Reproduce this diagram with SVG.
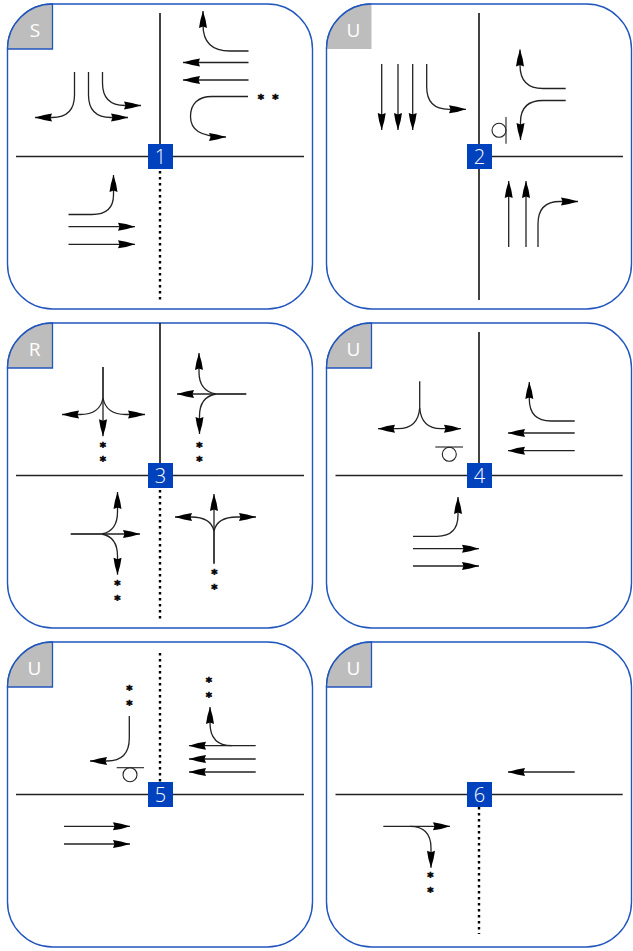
<svg xmlns="http://www.w3.org/2000/svg" width="633" height="951" viewBox="0 0 633 951">
<style>
.panel{fill:#fff;stroke:#2156bd;stroke-width:1.4}
.corner{fill:#bdbdbd;stroke:#2156bd;stroke-width:1.3}
.corner-flat{fill:#bdbdbd}
.letter,.num{font-family:"Open Sans","Liberation Sans",sans-serif;font-weight:400;fill:#fff;text-anchor:middle}
.letter{font-size:19px}
.num{font-size:20px;font-weight:300}
.box{fill:#0041bd}
.road{fill:none;stroke:#222;stroke-width:1.7}
.dot{fill:none;stroke:#000;stroke-width:2.4;stroke-dasharray:2.4 3.6}
.a{fill:none;stroke:#222;stroke-width:1.3;marker-end:url(#h)}
.sign{fill:none;stroke:#222;stroke-width:1.1}
.star{font-family:"DejaVu Sans",sans-serif;font-weight:700;font-size:12px;fill:#000;stroke:#000;stroke-width:.6;text-anchor:middle}
</style>
<defs>
<marker id="h" markerUnits="userSpaceOnUse" markerWidth="18" markerHeight="10" refX="17" refY="4.5" orient="auto" overflow="visible">
<path d="M0,0.5 L8,1.9 L17,4.5 L8,7.1 L0,8.5 L1.5,4.5 Z" fill="#000"/>
</marker>
</defs>
<g id="panels">
<g id="panel-1"><rect class="panel" x="7.5" y="4" width="305" height="305" rx="45"/><path class="corner" d="M7.5,49 A45,45 0 0 1 52.5,4 V49 Z"/><text class="letter" x="35" y="37">S</text></g>
<g id="panel-2"><rect class="panel" x="326.5" y="4" width="305" height="305" rx="45"/><path class="corner-flat" d="M326.5,49 A45,45 0 0 1 371.5,4 V49 Z"/><path d="M326.5,49 A45,45 0 0 1 371.5,4" fill="none" stroke="#2156bd" stroke-width="1.3"/><text class="letter" x="353.5" y="37">U</text></g>
<g id="panel-3"><rect class="panel" x="7.5" y="323" width="305" height="305" rx="45"/><path class="corner" d="M7.5,368 A45,45 0 0 1 52.5,323 V368 Z"/><text class="letter" x="34.5" y="356">R</text></g>
<g id="panel-4"><rect class="panel" x="326.5" y="323" width="305" height="305" rx="45"/><path class="corner" d="M326.5,368 A45,45 0 0 1 371.5,323 V368 Z"/><text class="letter" x="353.5" y="356">U</text></g>
<g id="panel-5"><rect class="panel" x="7.5" y="642" width="305" height="305" rx="45"/><path class="corner" d="M7.5,687 A45,45 0 0 1 52.5,642 V687 Z"/><text class="letter" x="34.5" y="675">U</text></g>
<g id="panel-6"><rect class="panel" x="326.5" y="642" width="305" height="305" rx="45"/><path class="corner" d="M326.5,687 A45,45 0 0 1 371.5,642 V687 Z"/><text class="letter" x="353.5" y="675">U</text></g>
</g>
<g id="connectors">
<!-- panel 1 -->
<path class="road" d="M160,13V146M16,156.5H304"/><path class="dot" d="M160,171V300"/>
<path class="a" d="M74.5,72V95Q74.5,117.5 52,117.5H35"/>
<path class="a" d="M88.5,72V95Q88.5,117.5 111,117.5H128"/>
<path class="a" d="M102.5,72V83Q102.5,105.5 125,105.5H141"/>
<path class="a" d="M248.5,51H230Q203,51 203,25V11"/>
<path class="a" d="M248.5,62.5H183"/>
<path class="a" d="M248.5,80H183"/>
<path class="a" d="M248,96.5H212C198,96.5 190.5,104 190.5,116.5C190.5,129 199,137 226,137"/>
<path class="a" d="M68.5,214.5H92Q113.5,214.5 113.5,195V175"/>
<path class="a" d="M68.5,226.7H135"/>
<path class="a" d="M68.5,244.3H135"/>
<!-- panel 2 -->
<path class="road" d="M479,13V300M490,156.5H623"/>
<path class="a" d="M381.7,64V130"/>
<path class="a" d="M398,64V130"/>
<path class="a" d="M412.7,64V130"/>
<path class="a" d="M426.7,64V87Q426.7,109.3 449,109.3H466"/>
<path class="a" d="M565.7,88.5H543Q520,88.5 520,65V49.5"/>
<path class="a" d="M565.7,100.5H543Q520.5,100.5 520.5,122V140"/>
<path class="a" d="M508.7,247V181"/>
<path class="a" d="M526,247V181"/>
<path class="a" d="M538,247V224Q538,201.5 560,201.5H578"/>
<path class="sign" d="M506,117V143.7"/><circle class="sign" cx="499" cy="130.3" r="7"/>
<!-- panel 3 -->
<path class="road" d="M160,323V465M16,475.5H304"/><path class="dot" d="M160,490V619"/>
<path class="road" d="M103,367V398"/>
<path class="a" d="M103,398V436.3"/>
<path class="a" d="M103,398Q100,414.5 80,414.5H62"/>
<path class="a" d="M103,398Q106,414.5 126,414.5H145"/>
<path class="road" d="M246.3,394H216"/>
<path class="a" d="M216,394H177"/>
<path class="a" d="M216,394Q199,391 199,372V353"/>
<path class="a" d="M216,394Q199.5,397 199.5,416V434"/>
<path class="road" d="M70.7,534H101.7"/>
<path class="a" d="M101.7,534H140"/>
<path class="a" d="M101.7,534Q117.5,531 117.5,512V492"/>
<path class="a" d="M101.7,534Q117.5,537 117.5,556V574.7"/>
<path class="road" d="M214,563.7V531"/>
<path class="a" d="M214,531V494"/>
<path class="a" d="M214,531Q211,517 191,517H175"/>
<path class="a" d="M214,531Q217,517 237,517H256"/>
<!-- panel 4 -->
<path class="road" d="M479,332V465M335.5,475.5H622.7"/>
<path class="a" d="M419.7,381.3V408Q418,428.7 398,428.7H378"/>
<path class="a" d="M419.7,408Q421.5,428.7 441,428.7H461"/>
<path class="sign" d="M435.3,447H463"/><circle class="sign" cx="449.3" cy="454.3" r="7"/>
<path class="a" d="M574.7,421H551Q529.3,421 529.3,399V382"/>
<path class="a" d="M574.7,433H508"/>
<path class="a" d="M574.7,450.7H508"/>
<path class="a" d="M413,536.3H437Q458,536.3 458,515V497"/>
<path class="a" d="M413,548.7H479"/>
<path class="a" d="M413,566H479"/>
<!-- panel 5 -->
<path class="road" d="M16,794.5H304"/><path class="dot" d="M160,653V782"/>
<path class="a" d="M129.3,716V738Q129.3,761 107,761H90"/>
<path class="sign" d="M116.7,767.7H144"/><circle class="sign" cx="130" cy="774.7" r="7"/>
<path class="a" d="M255.7,745.7H189"/>
<path class="a" d="M255.7,759H189"/>
<path class="a" d="M255.7,772H189"/>
<path class="a" d="M232,745.7Q210,745.7 210,723V707"/>
<path class="a" d="M64,826.3H130"/>
<path class="a" d="M64,844H130"/>
<!-- panel 6 -->
<path class="road" d="M335.5,794.5H622.7"/><path class="dot" d="M479,807V934"/>
<path class="a" d="M574.7,772H508"/>
<path class="a" d="M383.3,826.3H450"/>
<path class="a" d="M410,826.3Q431,826.3 431,848V867.7"/>
</g>
<g id="stars" opacity="0.99">
<text class="star" x="261" y="102.5">*</text><text class="star" x="275.5" y="102.5">*</text>
<text class="star" x="103" y="450.5">*</text><text class="star" x="103" y="465">*</text>
<text class="star" x="199.3" y="450.5">*</text><text class="star" x="199.3" y="465">*</text>
<text class="star" x="117.5" y="589">*</text><text class="star" x="117.5" y="603.5">*</text>
<text class="star" x="214.5" y="578">*</text><text class="star" x="214.5" y="592.5">*</text>
<text class="star" x="129.5" y="694">*</text><text class="star" x="129.5" y="709">*</text>
<text class="star" x="209" y="685.5">*</text><text class="star" x="209" y="700.5">*</text>
<text class="star" x="430.5" y="881">*</text><text class="star" x="430.5" y="896">*</text>
</g>
<g id="badge-1"><rect class="box" x="148" y="144" width="25" height="25"/><text class="num" x="160.5" y="163.5">1</text></g>
<g id="badge-2"><rect class="box" x="467" y="144" width="25" height="25"/><text class="num" x="479.5" y="163.5">2</text></g>
<g id="badge-3"><rect class="box" x="148" y="463" width="25" height="25"/><text class="num" x="160.5" y="482.5">3</text></g>
<g id="badge-4"><rect class="box" x="467" y="463" width="25" height="25"/><text class="num" x="479.5" y="482.5">4</text></g>
<g id="badge-5"><rect class="box" x="148" y="782" width="25" height="25"/><text class="num" x="160.5" y="801.5">5</text></g>
<g id="badge-6"><rect class="box" x="467" y="782" width="25" height="25"/><text class="num" x="479.5" y="801.5">6</text></g>
</svg>
